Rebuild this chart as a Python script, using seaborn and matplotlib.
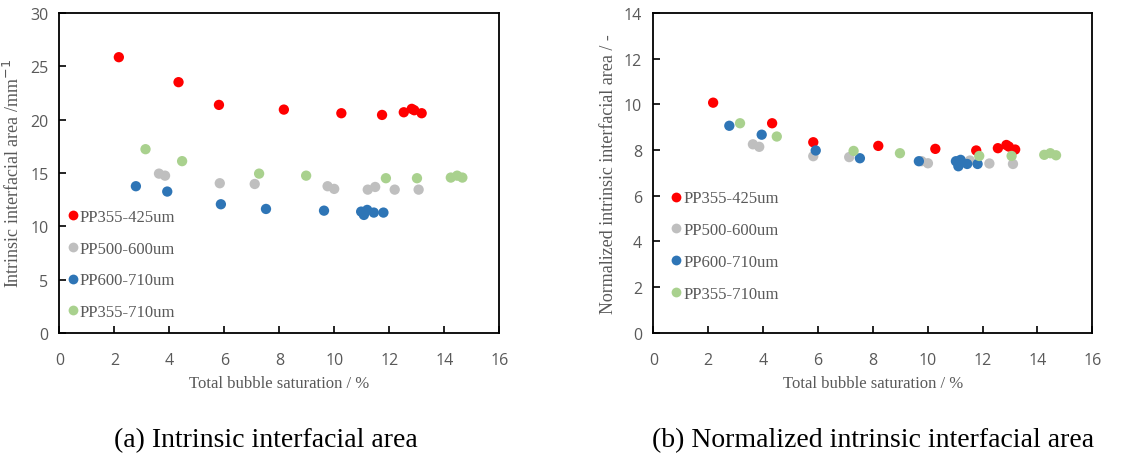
import numpy as np
import pandas as pd
import matplotlib
matplotlib.use("Agg")
import matplotlib.pyplot as plt
import seaborn as sns

series = ["PP355-425um", "PP500-600um", "PP600-710um", "PP355-710um"]
colors = ["#FF0000", "#BFBFBF", "#2E75B6", "#A9D18E"]

# (a) intrinsic interfacial area
a_x_red = [2.16, 4.33, 5.80, 8.16, 10.25, 11.73, 12.52, 12.81, 12.90, 13.17]
a_y_red = [25.84, 23.5, 21.37, 20.93, 20.59, 20.43, 20.68, 21.0, 20.87, 20.59]
a_x_gray = [3.62, 3.84, 5.83, 7.10, 9.75, 9.99, 11.21, 11.48, 12.19, 13.06]
a_y_gray = [14.93, 14.74, 14.03, 13.96, 13.75, 13.5, 13.43, 13.68, 13.43, 13.43]
a_x_blue = [2.78, 3.92, 5.87, 7.51, 9.62, 10.97, 11.07, 11.19, 11.43, 11.78]
a_y_blue = [13.75, 13.25, 12.06, 11.62, 11.46, 11.37, 11.06, 11.53, 11.28, 11.28]
a_x_green = [3.13, 4.46, 7.26, 8.97, 11.87, 13.0, 14.23, 14.46, 14.65]
a_y_green = [17.22, 16.1, 14.93, 14.74, 14.5, 14.5, 14.56, 14.74, 14.56]

# (b) normalized intrinsic interfacial area
b_x_red = [2.18, 4.33, 5.83, 8.20, 10.28, 11.77, 12.56, 12.87, 12.96, 13.19]
b_y_red = [10.07, 9.17, 8.34, 8.18, 8.05, 7.98, 8.08, 8.22, 8.15, 8.02]
b_x_gray = [3.63, 3.86, 5.83, 7.14, 9.78, 10.01, 11.21, 11.54, 12.25, 13.11]
b_y_gray = [8.25, 8.14, 7.73, 7.69, 7.51, 7.42, 7.45, 7.54, 7.41, 7.39]
b_x_blue = [2.77, 3.95, 5.92, 7.53, 9.68, 11.03, 11.12, 11.20, 11.44, 11.82]
b_y_blue = [9.06, 8.67, 7.98, 7.64, 7.51, 7.51, 7.29, 7.57, 7.39, 7.39]
b_x_green = [3.16, 4.50, 7.30, 8.99, 11.88, 13.06, 14.25, 14.47, 14.68]
b_y_green = [9.17, 8.59, 7.96, 7.86, 7.74, 7.74, 7.79, 7.86, 7.77]

x_ticks = [0, 2, 4, 6, 8, 10, 12, 14, 16]
a_y_ticks = [0, 5, 10, 15, 20, 25, 30]
b_y_ticks = [0, 2, 4, 6, 8, 10, 12, 14]

def make_df(xs, ys):
    rows = []
    for name, xv, yv in zip(series, xs, ys):
        for x, y in zip(xv, yv):
            rows.append({"x": x, "y": y, "series": name})
    return pd.DataFrame(rows)

df_a = make_df([a_x_red, a_x_gray, a_x_blue, a_x_green], [a_y_red, a_y_gray, a_y_blue, a_y_green])
df_b = make_df([b_x_red, b_x_gray, b_x_blue, b_x_green], [b_y_red, b_y_gray, b_y_blue, b_y_green])

sns.set_theme(style="white")
plt.rcParams["font.family"] = ["Liberation Serif", "DejaVu Serif"]

fig = plt.figure(figsize=(11.43, 4.6), dpi=100)
ax1 = fig.add_axes([0.052, 0.274, 0.385, 0.696])
ax2 = fig.add_axes([0.5716, 0.274, 0.384, 0.696])

label_color = "#595959"
tick_color = "#595959"

def style(ax, df, yticks, ylabel, leg_anchor):
    sns.scatterplot(data=df, x="x", y="y", hue="series", hue_order=series,
                    palette=colors, s=55, linewidth=0, ax=ax, legend=True)
    ax.set_xlim(0, 16)
    ax.set_ylim(yticks[0], yticks[-1])
    ax.set_xticks(x_ticks)
    ax.set_yticks(yticks)
    for sp in ax.spines.values():
        sp.set_visible(True)
        sp.set_color("black")
        sp.set_linewidth(1.3)
    ax.tick_params(axis="both", direction="in", length=5, width=1.2, color="black",
                   labelsize=11.5, labelcolor=tick_color, bottom=True, left=True,
                   top=False, right=False)
    ax.tick_params(axis="x", pad=14)
    ax.tick_params(axis="y", pad=8)
    for lab in ax.get_xticklabels() + ax.get_yticklabels():
        lab.set_family(["Open Sans", "DejaVu Sans"])
    ax.set_xlabel("Total bubble saturation / %", fontsize=12, color=label_color, labelpad=5)
    ax.set_ylabel(ylabel, fontsize=13, color=label_color, labelpad=5)
    handles, labels = ax.get_legend_handles_labels()
    leg = ax.legend(handles, labels, loc="upper left", bbox_to_anchor=leg_anchor,
                    frameon=False, fontsize=12, handlelength=0.5, handletextpad=0.15,
                    labelspacing=0.95, borderpad=0, borderaxespad=0, markerscale=0.95)
    for t in leg.get_texts():
        t.set_color(label_color)

style(ax1, df_a, a_y_ticks, "Intrinsic interfacial area /mm$^{-1}$", (0.022, 0.388))
style(ax2, df_b, b_y_ticks, "Normalized intrinsic interfacial area / -", (0.043, 0.445))

fig.text(0.233, 0.042, "(a) Intrinsic interfacial area", ha="center", va="center",
         fontsize=20, color="black")
fig.text(0.764, 0.042, "(b) Normalized intrinsic interfacial area", ha="center", va="center",
         fontsize=20, color="black")

fig.savefig("out.png", dpi=100)
